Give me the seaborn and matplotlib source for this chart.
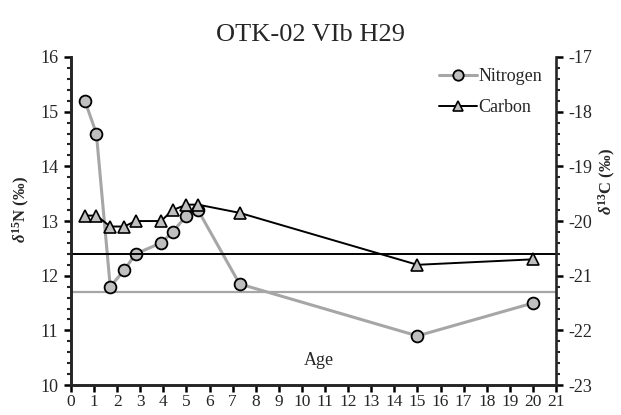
import numpy as np
import pandas as pd
import seaborn as sns
import matplotlib.pyplot as plt
from matplotlib.ticker import MultipleLocator
from matplotlib.lines import Line2D

## Data
age_n = [0.6, 1.1, 1.7, 2.3, 2.8, 3.9, 4.4, 5.0, 5.5, 7.3, 15.0, 20.0]
nitrogen = [15.2, 14.6, 11.8, 12.1, 12.4, 12.6, 12.8, 13.1, 13.2, 11.85, 10.9, 11.5]
age_c = [0.6, 1.1, 1.7, 2.3, 2.8, 3.9, 4.4, 5.0, 5.5, 7.3, 15.0, 20.0]
carbon = [-19.9, -19.9, -20.1, -20.1, -20.0, -20.0, -19.8, -19.7, -19.7, -19.85, -20.8, -20.7]
n_ref = 11.7
c_ref = -20.6
x_ticks = list(range(0, 22))

sns.set_style("ticks")
plt.rcParams['font.family'] = ['Liberation Serif', 'DejaVu Serif']
plt.rcParams['axes.unicode_minus'] = False
plt.rcParams['mathtext.fontset'] = 'custom'
plt.rcParams['mathtext.rm'] = 'Liberation Serif:bold'
plt.rcParams['mathtext.it'] = 'Liberation Serif:italic:bold'
plt.rcParams['mathtext.bf'] = 'Liberation Serif:bold'

df_n = pd.DataFrame({'Age': age_n, 'N': nitrogen})
df_c = pd.DataFrame({'Age': age_c, 'C': carbon})

fig = plt.figure(figsize=(6.21, 4.15), dpi=100)
ax = fig.add_axes([0.1143, 0.072, 0.781, 0.7907])
ax2 = ax.twinx()

n_col = '#a6a6a6'
fill = '#bfbfbf'

ax.axhline(n_ref, color=n_col, lw=1.6, zorder=1)
sns.lineplot(data=df_n, x='Age', y='N', ax=ax, color=n_col, lw=2.2,
             marker='o', markersize=8.5, markerfacecolor=fill,
             markeredgecolor='black', markeredgewidth=1.3, zorder=3)

ax2.axhline(c_ref, color='black', lw=1.4, zorder=1)
sns.lineplot(data=df_c, x='Age', y='C', ax=ax2, color='black', lw=1.4,
             marker='^', markersize=8, markerfacecolor=fill,
             markeredgecolor='black', markeredgewidth=1.2, zorder=3)

ax.set_xlim(0, 21)
ax.set_ylim(10, 16)
ax2.set_ylim(-23, -17)
ax.set_xticks(x_ticks)
ax.yaxis.set_major_locator(MultipleLocator(1))
ax.yaxis.set_minor_locator(MultipleLocator(0.2))
ax2.yaxis.set_major_locator(MultipleLocator(1))
ax2.yaxis.set_minor_locator(MultipleLocator(0.2))

for a in (ax, ax2):
    for s in a.spines.values():
        s.set_linewidth(1.9)
    a.spines['top'].set_visible(False)
    a.tick_params(which='major', direction='out', length=5, width=1.8,
                  labelsize=13, color='black', pad=4)
    a.tick_params(which='minor', direction='out', length=3, width=1.5)
ax.spines['right'].set_visible(False)
ax.tick_params(axis='x', labelsize=12.5, pad=1.5)

ax.set_xlabel('')
ax.set_ylabel(r'$\delta^{15}$N (‰)', fontsize=12, fontweight='bold')
ax2.set_ylabel(r'$\delta^{13}$C (‰)', fontsize=12, fontweight='bold')
ax.yaxis.set_label_coords(-0.08, 0.535)
ax2.yaxis.set_label_coords(1.085, 0.62)

ax.text(0.511, 0.075, 'Age', transform=ax.transAxes, ha='center',
        va='center', fontsize=13)
fig.text(0.5, 0.915, 'OTK-02 VIb H29', ha='center', va='center', fontsize=19)

handles = [
    Line2D([], [], color=n_col, lw=2.2, marker='o', markersize=7.5,
           markerfacecolor=fill, markeredgecolor='black', markeredgewidth=1.3),
    Line2D([], [], color='black', lw=1.4, marker='^', markersize=7,
           markerfacecolor=fill, markeredgecolor='black', markeredgewidth=1.2),
]
if ax.get_legend() is not None:
    ax.get_legend().remove()
if ax2.get_legend() is not None:
    ax2.get_legend().remove()
ax2.legend(handles, ['Nitrogen', 'Carbon'], loc='upper right',
           bbox_to_anchor=(1.005, 1.015), frameon=False, fontsize=13,
           handlelength=2.1, handletextpad=0.1, labelspacing=0.75)

fig.savefig('out.png', dpi=100)
